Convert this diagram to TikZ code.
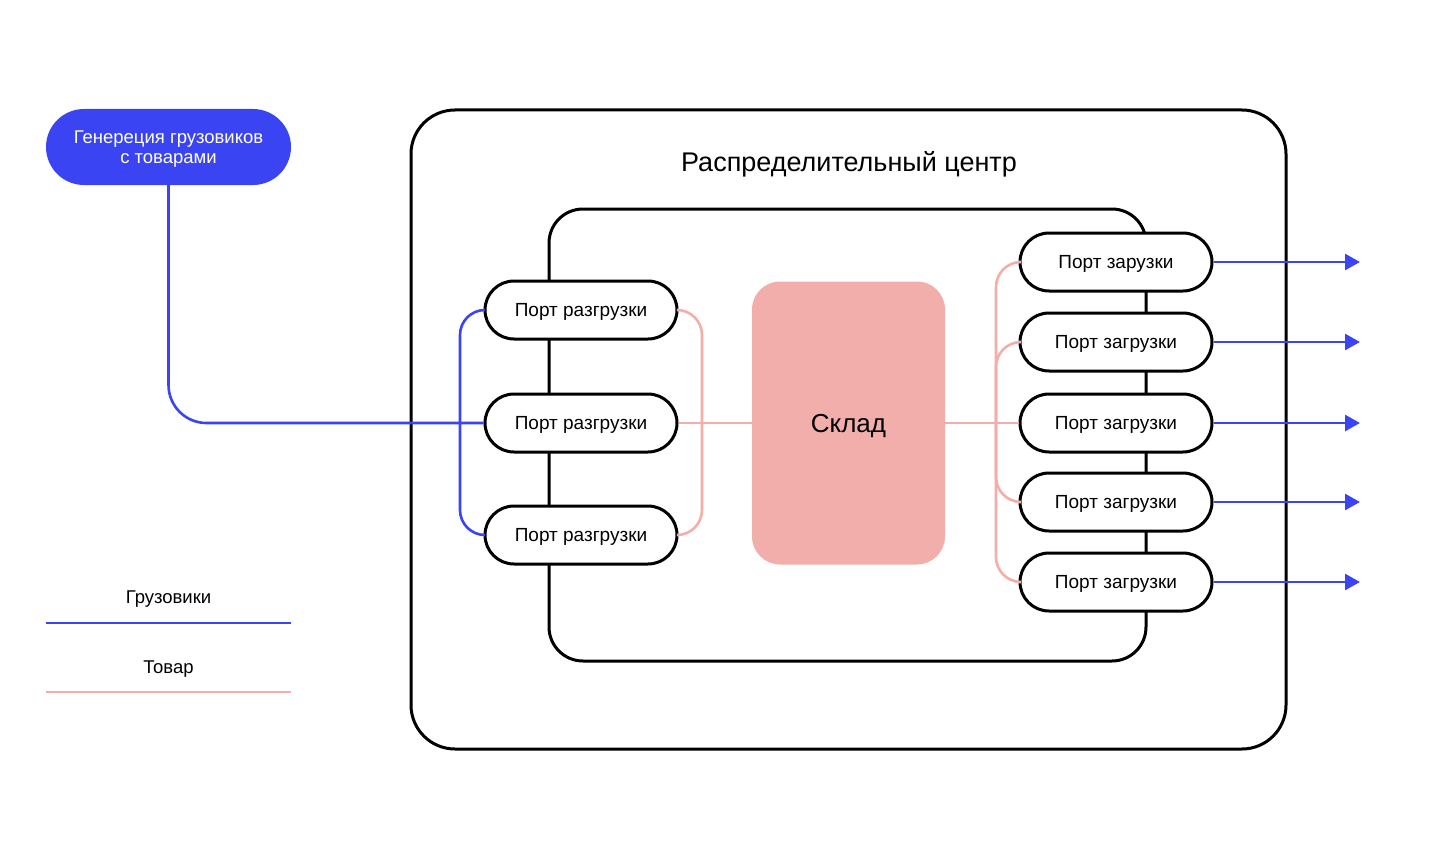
\documentclass[tikz,border=0pt]{standalone}
\usepackage{fontspec}
\setmainfont{Liberation Sans}
\usetikzlibrary{arrows.meta}
\definecolor{truckblue}{HTML}{3A44F2}
\definecolor{goodpink}{HTML}{F4ADA8}
\definecolor{stockpink}{HTML}{F2AEAB}
\tikzset{
  port/.style={draw=black, line width=3pt, rounded corners=29pt, minimum width=192pt, minimum height=58pt, fill=white, inner sep=0pt, text depth=0pt, font=\fontsize{19}{22}\selectfont},
  truck/.style={draw=truckblue, line width=2.6pt},
  good/.style={draw=goodpink, line width=2.6pt},
  frame/.style={draw=black, line width=3pt},
  outarrow/.style={truck, -{Triangle[length=15pt,width=16pt]}},
  lbl/.style={font=\fontsize{18.5}{21}\selectfont, inner sep=0pt, text depth=0pt}
}
\begin{document}
\begin{tikzpicture}[x=1pt,y=-1pt]
\useasboundingbox (0,0) rectangle (1454,856);
% outer frame
\draw[frame, rounded corners=44pt] (411,110) rectangle (1286,749);
\node[font=\fontsize{27}{31}\selectfont, inner sep=0pt, text depth=0pt] (title) at (849,161) {Распределительный центр};
% inner frame
\draw[frame, rounded corners=34pt] (549,209) rectangle (1146,661);
% generator
\node[fill=truckblue, rounded corners=38pt, minimum width=245pt, minimum height=76pt, inner sep=0pt, text=white, align=center, text depth=0pt, font=\fontsize{18.5}{20}\selectfont] (gen) at (168.5,147) {Генереция грузовиков\\с товарами};
% warehouse
\node[fill=stockpink, rounded corners=28pt, minimum width=193pt, minimum height=283pt, inner sep=0pt, text depth=0pt, font=\fontsize{26}{30}\selectfont] (stock) at (848.5,423) {Склад};
% left ports
\node[port] (L1) at (581,310) {Порт разгрузки};
\node[port] (L2) at (581,423) {Порт разгрузки};
\node[port] (L3) at (581,535) {Порт разгрузки};
% right ports
\node[port] (R1) at (1116,262) {Порт зарузки};
\node[port] (R2) at (1116,342) {Порт загрузки};
\node[port] (R3) at (1116,423) {Порт загрузки};
\node[port] (R4) at (1116,502) {Порт загрузки};
\node[port] (R5) at (1116,582) {Порт загрузки};
% bus coordinates
\coordinate (bl) at (460,0);
\coordinate (pl) at (702,0);
\coordinate (pr) at (996,0);
% trucks
\draw[truck, rounded corners=38pt] (gen.south) |- (L2.west);
\draw[truck, rounded corners=25pt] (L1.west) -- (L1.west -| bl) -- (L3.west -| bl) -- (L3.west);
% goods left
\draw[good, rounded corners=25pt] (L1.east) -- (L1.east -| pl) -- (L3.east -| pl) -- (L3.east);
\draw[good] (L2.east) -- (stock.west);
% goods right
\draw[good] (stock.east) -- (R3.west);
\draw[good, rounded corners=25pt] (R1.west) -- (R1.west -| pr) -- (R5.west -| pr) -- (R5.west);
\draw[good, rounded corners=25pt] (R2.west) -- (R2.west -| pr) -- (R3.west -| pr);
\draw[good, rounded corners=25pt] (R4.west) -- (R4.west -| pr) -- (R3.west -| pr);
% outgoing arrows
\coordinate (ax) at (1360,0);
\foreach \p in {R1,R2,R3,R4,R5}{
  \draw[outarrow] (\p.east) -- (\p.east -| ax);
}
% legend
\node[lbl] (legT) at (168.5,597) {Грузовики};
\coordinate (lt1) at (46,623);
\coordinate (lt2) at (291,623);
\draw[truck] (lt1) -- (lt2);
\node[lbl] (legG) at (168.5,667) {Товар};
\coordinate (lg1) at (46,692);
\coordinate (lg2) at (291,692);
\draw[good] (lg1) -- (lg2);
\end{tikzpicture}
\end{document}
